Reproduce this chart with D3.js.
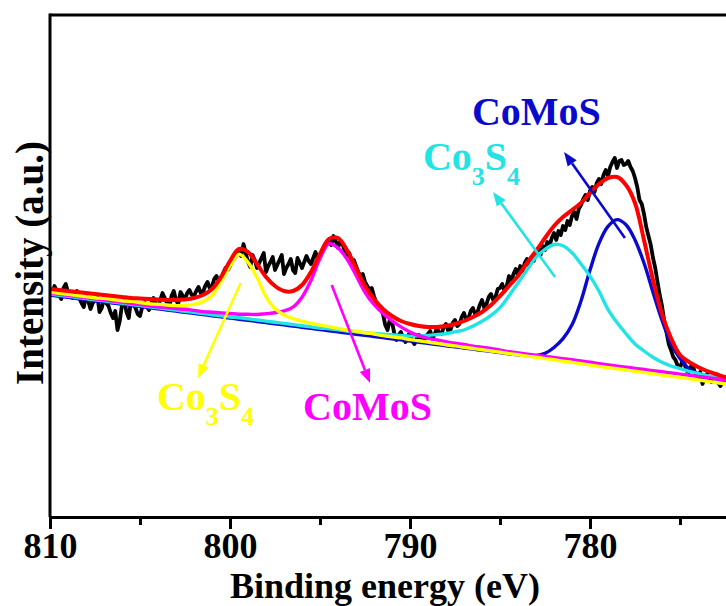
<!DOCTYPE html>
<html>
<head>
<meta charset="utf-8">
<script src="https://cdn.jsdelivr.net/npm/d3@7"></script>
<style>
  html, body { margin: 0; padding: 0; background: #fff; }
  svg { display: block; }
</style>
</head>
<body>
<svg id="chart" width="726" height="606"></svg>
<script>
// Co 2p region: measured intensity (a.u.), 0.125 eV steps from 810 eV downward
const scanStart = 810, scanStep = 0.125;
const counts = [
  227, 224, 231, 226, 222, 218, 229, 233, 225, 221, 219, 223, 226, 219, 214, 210,
  221, 216, 208, 214, 217, 222, 205, 209, 219, 214, 211, 204, 199, 206, 187, 196,
  212, 216, 205, 199, 217, 213, 209, 203, 201, 210, 215, 211, 207, 214, 219, 213,
  211, 217, 224, 219, 214, 209, 221, 226, 217, 213, 225, 221, 218, 224, 227, 222,
  221, 226, 230, 224, 225, 231, 235, 229, 231, 238, 241, 236, 237, 244, 249, 247,
  251, 256, 259, 262, 265, 261, 273, 264, 255, 250, 262, 257, 249, 254, 259, 264,
  245, 251, 255, 260, 247, 252, 257, 262, 243, 249, 253, 258, 247, 244, 259, 254,
  249, 255, 261, 256, 253, 259, 265, 258, 261, 267, 271, 274, 277, 272, 281, 276,
  269, 276, 273, 266, 261, 264, 255, 257, 251, 245, 241, 243, 235, 231, 227, 229,
  221, 214, 211, 209, 203, 192, 187, 197, 195, 184, 177, 182, 185, 178, 175, 181,
  184, 176, 173, 179, 182, 177, 175, 180, 183, 186, 178, 183, 189, 184, 183, 190,
  193, 186, 187, 194, 197, 191, 193, 200, 204, 197, 199, 206, 209, 202, 205, 212,
  217, 209, 213, 220, 223, 217, 220, 228, 229, 233, 226, 231, 241, 235, 243, 248,
  242, 251, 246, 254, 258, 251, 260, 256, 264, 269, 262, 271, 267, 275, 271, 279,
  284, 277, 286, 282, 291, 287, 296, 292, 301, 305, 298, 308, 312, 318, 322, 317,
  326, 330, 325, 334, 338, 333, 342, 347, 341, 350, 355, 359, 349, 356, 357, 352,
  353, 356, 350, 346, 339, 330, 317, 313, 303, 290, 281, 272, 259, 249, 235, 222,
  211, 196, 185, 173, 167, 160, 157, 151, 149, 156, 153, 146, 145, 151, 149, 142,
  139, 145, 133, 139, 143, 137, 135, 142, 141, 134, 131, 136, 137
];

// Fitted curves (background included), 0.5 eV steps from 810 eV downward
const fitStart = 810, fitStep = 0.5;
const envelope = [
  228, 227, 226, 225, 224, 223, 222, 221, 220, 219, 218.5, 218, 217.5, 217, 217, 217.5,
  219, 222, 228, 240, 256, 268, 265, 253, 240, 231, 226, 226, 232, 245, 263, 278,
  279, 267, 249, 231, 218, 208, 201, 196, 193, 191, 190, 190, 191, 193, 196, 200,
  205, 212, 221, 231, 241, 254, 266, 279, 291, 300, 307, 314, 324, 333, 339, 340,
  332, 314, 277, 237, 203, 179, 162, 155, 150, 146, 143, 140, 138
];
const co3s4Sat = [
  225, 223.8, 222.7, 221.5, 220.4, 219.2, 218.6, 217.4, 216.3, 215.6, 214.5, 213.3,
  212.7, 212.0, 211.4, 211.7, 212.6, 215.4, 221.3, 235.1, 251.0, 262.8, 254.7, 239.5,
  220.4, 208.2, 202.1, 198.4, 195.8, 193.6, 191.9, 190.3, 188.6, 187.0, 185.8, 184.2,
  183.0, 181.4, 180.2, 179.1, 177.4, 176.2, 174.9, 173.6, 172.3, 171.1, 169.7, 168.5,
  167.2, 166.0, 164.7, 163.4, 162.2, 160.9, 159.8, 158.4, 157.2, 155.8, 154.6, 153.2,
  151.9, 150.6, 149.4, 148.2, 147.0, 145.7, 144.5, 143.2, 142.0, 140.7, 139.6, 138.3,
  137.1, 135.8, 134.5, 133.2, 132.0
];
const comosSat = [
  224, 222.8, 221.7, 220.5, 219.4, 218.2, 217.1, 215.9, 214.8, 213.6, 212.5, 211.3,
  210.2, 209.5, 208.4, 207.7, 206.6, 205.4, 204.8, 204.1, 203.5, 202.8, 202.7, 202.5,
  203.4, 204.2, 206.1, 209.9, 219.8, 236.6, 258.4, 273.3, 269.1, 258.0, 241.8, 224.7,
  212.5, 203.4, 196.2, 190.1, 184.9, 181.3, 178.6, 177.0, 175.3, 173.7, 172.5, 170.9,
  169.7, 168.6, 166.9, 165.2, 164.1, 162.9, 161.8, 160.6, 159.5, 158.3, 157.2, 156.0,
  154.9, 153.2, 152.1, 150.9, 149.8, 148.6, 147.5, 146.3, 145.2, 144.0, 142.9, 141.7,
  140.6, 139.4, 138.3, 137.1, 136.0
];
const co3s4Main = [
  223, 221.8, 220.7, 219.5, 218.4, 217.2, 216.1, 214.9, 213.8, 212.6, 211.5, 210.3,
  209.2, 208.0, 206.9, 205.7, 204.6, 203.4, 202.3, 201.1, 200.0, 199.3, 198.2, 197.0,
  195.9, 194.7, 193.6, 192.4, 191.3, 190.1, 188.9, 188.3, 187.1, 186.0, 185.3, 184.2,
  183.5, 182.9, 182.2, 181.6, 180.9, 181.3, 181.6, 182.5, 183.3, 185.2, 187.0, 190.9,
  195.7, 201.6, 209.4, 221.2, 234.1, 246.9, 259.8, 267.6, 272.5, 271.3, 264.2, 253.0,
  240.9, 225.7, 207.6, 194.4, 183.3, 173.1, 166.0, 159.8, 154.7, 151.0, 148.4, 145.7,
  143.6, 141.4, 139.8, 138.1, 136.5
];
const comosMain = [
  222.0, 220.8, 219.7, 218.5, 217.4, 216.2, 215.1, 213.9, 212.8, 211.6, 210.5, 209.3,
  208.2, 207.0, 205.9, 204.7, 203.6, 202.4, 201.3, 200.1, 199.0, 197.8, 196.7, 195.5,
  194.4, 193.2, 192.1, 190.9, 189.8, 188.6, 187.4, 186.3, 185.1, 184.0, 182.8, 181.7,
  180.5, 179.4, 178.2, 177.1, 175.9, 174.8, 173.6, 172.5, 171.3, 170.2, 169.0, 167.9,
  166.7, 165.6, 164.4, 163.2, 162.1, 161.4, 161.3, 163.6, 169.5, 178.3, 192.2, 216.0,
  246.9, 273.7, 290.6, 297.4, 292.3, 277.1, 254.0, 224.8, 196.7, 173.5, 158.4, 148.2,
  143.1, 139.9, 137.8, 136.1, 134.5
];

const majorTicks = [810, 800, 790, 780];
const minorTicks = [805, 795, 785, 775];

// Peak assignments: label, colour, where the text starts and where the arrow runs
const labelNames  = ["Co3S4", "CoMoS", "Co3S4", "CoMoS"];
const labelColors = ["#ffff00", "#ff00ff", "#22e4e4", "#0a0acc"];
const labelAt     = [[804.06, 107], [795.94, 97], [789.28, 347], [786.56, 392]];
const arrowFrom   = [[799.41, 234], [794.35, 232], [781.94, 240], [778.06, 279]];
const arrowTo     = [[801.78, 139], [792.22, 134], [785.39, 325], [781.44, 365]];

const svg = d3.select("#chart");
const plotLeft = 50, plotTop = 15, plotBottom = 517, plotRight = 734;
const serif = "'Liberation Serif', 'Times New Roman', serif";

const x = d3.scaleLinear().domain([810, 772]).range([plotLeft, plotRight]);
const y = d3.scaleLinear().domain([0, 502]).range([plotBottom, plotTop]);

svg.append("rect").attr("width", 726).attr("height", 606).attr("fill", "#fff");

svg.append("defs").append("clipPath").attr("id", "plot")
  .append("rect").attr("x", plotLeft).attr("y", plotTop)
  .attr("width", plotRight - plotLeft).attr("height", plotBottom - plotTop);

const plot = svg.append("g").attr("clip-path", "url(#plot)");

const scanLine = d3.line()
  .x((d, i) => x(scanStart - i * scanStep))
  .y(d => y(d));

const fitLine = d3.line()
  .x((d, i) => x(fitStart - i * fitStep))
  .y(d => y(d))
  .curve(d3.curveCatmullRom.alpha(0.5));

plot.append("path").datum(counts)
  .attr("d", scanLine)
  .attr("fill", "none").attr("stroke", "#000")
  .attr("stroke-width", 3.8).attr("stroke-linejoin", "round");

const fits = [
  [comosMain, "#0a0acc"],
  [co3s4Main, "#22e4e4"],
  [comosSat, "#ff00ff"],
  [co3s4Sat, "#ffff00"],
  [envelope, "#ff0000"]
];
fits.forEach(([series, color]) => {
  plot.append("path").datum(series)
    .attr("d", fitLine)
    .attr("fill", "none").attr("stroke", color)
    .attr("stroke-width", color === "#ff0000" ? 4 : 3.4)
    .attr("stroke-linejoin", "round");
});

// Arrows from each fitted peak to its label
arrowFrom.forEach((from, i) => {
  const x1 = x(from[0]), y1 = y(from[1]);
  const x2 = x(arrowTo[i][0]), y2 = y(arrowTo[i][1]);
  const ang = Math.atan2(y2 - y1, x2 - x1);
  const headLen = 14, headHalf = 5.5;
  const bx = x2 - headLen * Math.cos(ang), by = y2 - headLen * Math.sin(ang);
  svg.append("line")
    .attr("x1", x1).attr("y1", y1).attr("x2", bx).attr("y2", by)
    .attr("stroke", labelColors[i]).attr("stroke-width", 2.6);
  const px = -Math.sin(ang), py = Math.cos(ang);
  svg.append("path")
    .attr("d", `M${x2},${y2}L${bx + px * headHalf},${by + py * headHalf}L${bx - px * headHalf},${by - py * headHalf}Z`)
    .attr("fill", labelColors[i]);
});

// Peak labels, with subscripts for the spinel formula
labelNames.forEach((name, i) => {
  const t = svg.append("text")
    .attr("x", x(labelAt[i][0])).attr("y", y(labelAt[i][1]))
    .attr("fill", labelColors[i])
    .style("font-family", serif)
    .style("font-weight", "bold").style("font-size", "40px");
  const parts = name.match(/[A-Za-z]+|\d+/g);
  let lowered = false;
  parts.forEach(p => {
    const isNum = /\d/.test(p);
    const ts = t.append("tspan").text(p);
    if (isNum) {
      ts.style("font-size", "26px").attr("dy", lowered ? 0 : 15);
      lowered = true;
    } else if (lowered) {
      ts.attr("dy", -15);
      lowered = false;
    }
  });
});

// Frame: top edge and left edge
svg.append("line").attr("x1", plotLeft).attr("x2", 726).attr("y1", plotTop).attr("y2", plotTop)
  .attr("stroke", "#000").attr("stroke-width", 3);
svg.append("line").attr("x1", plotLeft).attr("x2", plotLeft).attr("y1", plotTop - 1.5).attr("y2", plotBottom)
  .attr("stroke", "#000").attr("stroke-width", 3);

// Bottom axis with major and minor ticks
const axisMinor = d3.axisBottom(x).tickValues(minorTicks).tickSize(8).tickFormat("");
const axisMajor = d3.axisBottom(x).tickValues(majorTicks).tickSize(12).tickPadding(3.5)
  .tickFormat(d3.format("d"));

const gMinor = svg.append("g").attr("transform", `translate(0,${plotBottom})`).call(axisMinor);
gMinor.select(".domain").remove();
gMinor.selectAll("line").attr("stroke", "#000").attr("stroke-width", 3);

const gMajor = svg.append("g").attr("transform", `translate(0,${plotBottom})`).call(axisMajor);
gMajor.select(".domain").attr("stroke", "#000").attr("stroke-width", 3);
gMajor.selectAll("line").attr("stroke", "#000").attr("stroke-width", 3);
gMajor.selectAll("text")
  .attr("fill", "#000")
  .style("font-family", serif)
  .style("font-weight", "bold").style("font-size", "36px");

// Axis titles
svg.append("text")
  .attr("x", 385).attr("y", 598).attr("text-anchor", "middle")
  .style("font-family", serif)
  .style("font-weight", "bold").style("font-size", "36px")
  .text("Binding energy (eV)");

svg.append("text")
  .attr("transform", "translate(43,263) rotate(-90)")
  .attr("text-anchor", "middle")
  .style("font-family", serif)
  .style("font-weight", "bold").style("font-size", "39px")
  .text("Intensity (a.u.)");
</script>
</body>
</html>
